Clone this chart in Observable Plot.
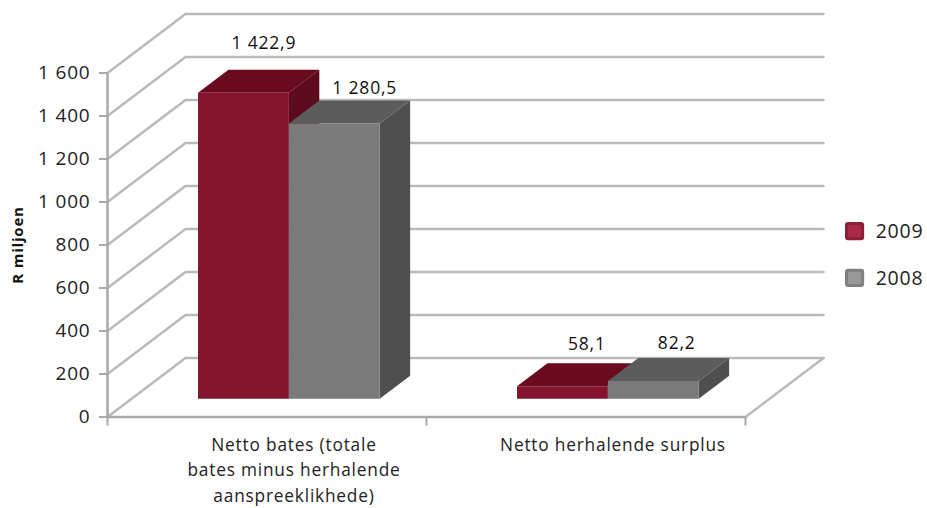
<!DOCTYPE html>
<html>
<head>
<meta charset="utf-8">
<script src="https://cdn.jsdelivr.net/npm/d3@7"></script>
<script src="https://cdn.jsdelivr.net/npm/@observablehq/plot@0.6"></script>
<style>
html,body{margin:0;padding:0;background:#fff;}
svg{display:block;}
</style>
</head>
<body>
<div id="chart"></div>
<script>
const categories = ["Netto bates (totale\nbates minus herhalende\naanspreeklikhede)", "Netto herhalende surplus"];
const seriesNames = ["2009", "2008"];
const values2009 = [1422.9, 58.1];
const values2008 = [1280.5, 82.2];
const yTicks = [0, 200, 400, 600, 800, 1000, 1200, 1400, 1600];
const xTicks = [0, 1, 2];

// colours
const frontColors = ["#85142d", "#7a7a7a"];
const topColors = ["#6a0a20", "#5c5c5c"];
const sideColors = ["#5c0b1e", "#4f4f4f"];
const swatchOuter = ["#8c1f3a", "#808080"];
const swatchInner = ["#a92a4a", "#989898"];
const gridColor = "#bababa";
const axisColor = "#a9a9a9";
const font = "'Open Sans', 'Noto Sans', sans-serif";

// oblique projection, in data units
const depthX = 78 / 319, depthV = 274.4;
const barLeft = 0.208, barWidth = 0.2848, zFront = 0.31, zBack = 0.70;
const P = (x, v, z) => ({px: x + z * depthX, pv: v + z * depthV});

const seriesValues = [values2009, values2008];
const fmt = d3.formatLocale({decimal: ",", thousands: " ", grouping: [3], currency: ["", ""]});
const tickFmt = fmt.format(",d");
const valFmt = fmt.format(",.1f");

const gridLines = yTicks.map((v) => [P(0, v, 0), P(0, v, 1), P(2, v, 1)]);
const floorRight = [P(2, 0, 0), P(2, 0, 1)];

function faces(s) {
  const front = [], top = [], side = [];
  seriesValues[s].forEach((v, g) => {
    const a = g + barLeft + s * barWidth, b = a + barWidth;
    front.push([P(a, 0, zFront), P(b, 0, zFront), P(b, v, zFront), P(a, v, zFront)]);
    top.push([P(a, v, zFront), P(b, v, zFront), P(b, v, zBack), P(a, v, zBack)]);
    side.push([P(b, 0, zFront), P(b, 0, zBack), P(b, v, zBack), P(b, v, zFront)]);
  });
  return {front, top, side};
}
const poly = (pts, fill) => Plot.line(pts, {x: "px", y: "pv", fill, stroke: "none", curve: "linear-closed"});

const barMarks = [];
[0, 1].forEach((s) => {
  const f = faces(s);
  f.top.forEach((p) => barMarks.push(poly(p, topColors[s])));
  f.side.forEach((p) => barMarks.push(poly(p, sideColors[s])));
  f.front.forEach((p) => barMarks.push(poly(p, frontColors[s])));
});

// value labels: anchored on the bar's rear top edge, nudged in pixels
const labelNudgeX = [[-10, 0], [-6, -7]];
const labelNudgeY = [[-26, -12], [-19, -15]];
const valueLabels = [];
[0, 1].forEach((s) => seriesValues[s].forEach((v, g) => {
  const cx = g + barLeft + (s + 0.5) * barWidth;
  const p = P(cx, v, zBack);
  valueLabels.push(Plot.text([{...p, t: valFmt(v)}], {
    x: "px", y: "pv", text: "t", dx: labelNudgeX[g][s], dy: labelNudgeY[g][s],
    fontSize: 17.5, fontFamily: font, fill: "#111", textAnchor: "middle"
  }));
}));

// legend
const legendX = 2.3135, legendW = 0.06, legendV = [862, 645], legendH = 85;
const legendRows = seriesNames.map((name, i) => ({name, i, v: legendV[i]}));

const chart = Plot.plot({
  width: 927,
  height: 508,
  marginLeft: 107,
  marginRight: 182,
  marginTop: 72.5,
  marginBottom: 91.5,
  style: {fontFamily: font, background: "#fff", overflow: "visible", letterSpacing: "0.8px"},
  x: {domain: [0, 2], axis: null},
  y: {domain: [0, 1600], axis: null},
  marks: [
    ...gridLines.map((g) => Plot.line(g, {x: "px", y: "pv", stroke: gridColor, strokeWidth: 2.5})),
    Plot.line(floorRight, {x: "px", y: "pv", stroke: gridColor, strokeWidth: 2.5}),
    Plot.axisY({
      ticks: yTicks, tickSize: 8, tickPadding: 9, tickFormat: tickFmt, label: null,
      fontSize: 19, fontFamily: font, color: "#222", stroke: axisColor, strokeWidth: 2
    }),
    Plot.axisY({
      ticks: [], label: "R miljoen", labelAnchor: "center", labelArrow: "none", labelOffset: 95,
      fontSize: 15, fontWeight: "bold", fontFamily: font, fill: "#111"
    }),
    Plot.axisX({ticks: xTicks, tickSize: 9, tickFormat: () => "", label: null, stroke: axisColor, strokeWidth: 2}),
    Plot.ruleX([0], {y1: 0, y2: 1600, stroke: axisColor, strokeWidth: 2.5}),
    Plot.ruleY([0], {x1: 0, x2: 2, stroke: axisColor, strokeWidth: 2.5}),
    ...barMarks,
    ...valueLabels,
    Plot.text(categories, {
      x: (d, i) => i + barLeft + barWidth + zFront * depthX + 0.016,
      y: () => 0,
      text: (d) => d,
      dy: 16,
      lineAnchor: "top",
      lineHeight: 1.47,
      fontSize: 17.3,
      fontFamily: font,
      fill: "#222",
      textAnchor: "middle"
    }),
    Plot.rect(legendRows, {
      x1: () => legendX, x2: () => legendX + legendW,
      y1: (d) => d.v - legendH / 2, y2: (d) => d.v + legendH / 2,
      fill: (d) => swatchOuter[d.i], rx: 3
    }),
    Plot.rect(legendRows, {
      x1: () => legendX, x2: () => legendX + legendW,
      y1: (d) => d.v - legendH / 2, y2: (d) => d.v + legendH / 2,
      inset: 3,
      fill: (d) => swatchInner[d.i], rx: 2
    }),
    Plot.text(legendRows, {
      x: () => legendX + legendW, y: "v", text: "name", dx: 11, textAnchor: "start",
      fontSize: 19.5, fontFamily: font, fill: "#222"
    })
  ]
});
document.getElementById("chart").append(chart);
</script>
</body>
</html>
